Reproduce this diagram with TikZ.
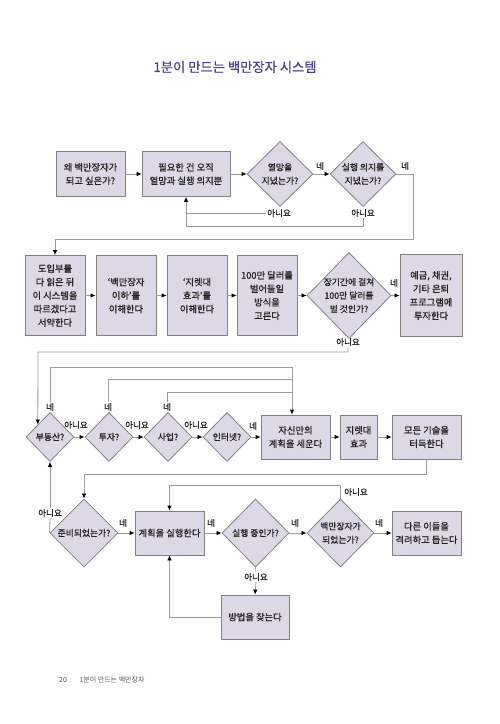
\documentclass[tikz,border=0pt]{standalone}
\usepackage{fontspec}
\setmainfont{Noto Sans CJK KR}
\newfontfamily\heavyish{Noto Sans CJK KR}[FakeBold=0.9]
\newfontfamily\titlefam{Noto Sans CJK KR}[FakeBold=0.4]
\usetikzlibrary{shapes.geometric,arrows.meta}
\definecolor{boxfill}{HTML}{DDD8E5}
\definecolor{boxline}{HTML}{808080}
\definecolor{conn}{HTML}{9C9C9C}
\definecolor{titlec}{HTML}{4E3D8F}
\definecolor{txtc}{HTML}{222222}
\newcommand\myboxfont{\heavyish\fontsize{9.3}{13.5}\selectfont}
\newcommand\mydiafont{\heavyish\fontsize{8.8}{13.5}\selectfont}
\newcommand\mylabfont{\heavyish\fontsize{8.5}{10}\selectfont}
\begin{document}
\begin{tikzpicture}[x=1pt,y=-1pt,
  box/.style={draw=boxline, fill=boxfill, line width=0.8pt, inner sep=0pt, align=center, font=\myboxfont, text=txtc},
  dia/.style={diamond, draw=boxline, fill=boxfill, line width=0.8pt, inner sep=0pt},
  txt/.style={align=center, font=\mydiafont, inner sep=0pt, text=txtc},
  lab/.style={font=\mylabfont, inner sep=1pt, text=txtc},
  line/.style={draw=conn, line width=0.8pt},
  arr/.style={line, -{Latex[length=5pt,width=4.5pt,color=black]}}]
\useasboundingbox[fill=white] (0,0) rectangle (500,724);

% title
\node[font=\titlefam\fontsize{13.3}{15}\selectfont, text=titlec] (title) at (235,67) {1분이 만드는 백만장자 시스템};

% row 1
\node[box, minimum width=69, minimum height=45] (b1) at (90.5,174) {왜 백만장자가\\되고 싶은가?};
\node[box, minimum width=88, minimum height=45] (b2) at (186,174) {필요한 건 오직\\열망과 실행 의지뿐};
\node[dia, minimum width=66, minimum height=65] (d1) at (280,174) {};
\node[txt] (d1t) at (d1) {열망을\\지녔는가?};
\node[dia, minimum width=66, minimum height=65] (d2) at (363,174) {};
\node[txt] (d2t) at (d2) {실행 의지를\\지녔는가?};
\node[lab] (y1) at (320,166) {네};
\node[lab] (y2) at (405,166) {네};
\node[lab] (n1) at (279,213) {아니요};
\node[lab] (n2) at (363,213) {아니요};

% row 2
\node[box, minimum width=60, minimum height=80] (bA) at (55,295.5) {도입부를\\다 읽은 뒤\\이 시스템을\\따르겠다고\\서약한다};
\node[box, minimum width=60, minimum height=80] (bB) at (126,295.5) {‘백만장자\\이하’를\\이해한다};
\node[box, minimum width=60, minimum height=80] (bC) at (197,295.5) {‘지렛대\\효과’를\\이해한다};
\node[box, minimum width=60, minimum height=80] (bD) at (267,295.5) {100만 달러를\\벌어들일\\방식을\\고른다};
\node[dia, minimum width=84, minimum height=86] (dL) at (349,295.5) {};
\node[txt] (dLt) at (dL) {장기간에 걸쳐\\100만 달러를\\벌 것인가?};
\node[box, minimum width=62, minimum height=82] (bE) at (431,295.5) {예금, 채권,\\기타 은퇴\\프로그램에\\투자한다};
\node[lab] (y3) at (394,283) {네};
\node[lab] (n3) at (348,342) {아니요};

% row 3
\node[dia, minimum width=48, minimum height=49] (p1) at (50,437) {};
\node[txt] (p1t) at (p1) {부동산?};
\node[dia, minimum width=48, minimum height=49] (p2) at (109,437) {};
\node[txt] (p2t) at (p2) {투자?};
\node[dia, minimum width=48, minimum height=49] (p3) at (168,437) {};
\node[txt] (p3t) at (p3) {사업?};
\node[dia, minimum width=48, minimum height=49] (p4) at (227,437) {};
\node[txt] (p4t) at (p4) {인터넷?};
\node[box, minimum width=69, minimum height=44] (bF) at (295.5,437) {자신만의\\계획을 세운다};
\node[box, minimum width=37, minimum height=44] (bG) at (358.5,437) {지렛대\\효과};
\node[box, minimum width=69, minimum height=44] (bH) at (426.5,437) {모든 기술을\\터득한다};
\node[lab] (y4) at (50,407) {네};
\node[lab] (y5) at (108,407) {네};
\node[lab] (y6) at (167,407) {네};
\node[lab] (n4) at (76,425) {아니요};
\node[lab] (n5) at (137,425) {아니요};
\node[lab] (n6) at (196,425) {아니요};
\node[lab] (y7) at (253,426) {네};

% row 4
\node[dia, minimum width=68, minimum height=68] (r1) at (84,533) {};
\node[txt] (r1t) at (r1) {준비되었는가?};
\node[box, minimum width=69, minimum height=44] (bI) at (169.5,533) {계획을 실행한다};
\node[dia, minimum width=67, minimum height=68] (r2) at (255.5,533) {};
\node[txt] (r2t) at (r2) {실행 중인가?};
\node[dia, minimum width=67, minimum height=68] (r3) at (340.5,533) {};
\node[txt] (r3t) at (r3) {백만장자가\\되었는가?};
\node[box, minimum width=69, minimum height=44] (bJ) at (426.5,533) {다른 이들을\\격려하고 돕는다};
\node[box, minimum width=68, minimum height=44] (bK) at (255,617) {방법을 찾는다};
\node[lab] (y8) at (123,523) {네};
\node[lab] (y9) at (211,523) {네};
\node[lab] (y10) at (295,523) {네};
\node[lab] (y11) at (379,523) {네};
\node[lab] (n7) at (356,492) {아니요};
\node[lab] (n8) at (256,577) {아니요};
\node[lab] (n9) at (50,513) {아니요};

% footer
\node[font=\fontsize{7}{8}\selectfont, text=titlec] (pg) at (63,680) {20};
\node[font=\fontsize{7}{8}\selectfont, text=black!65, anchor=west] (ft) at (76,680) {1분이 만드는 백만장자};

% connectors row 1
\draw[arr] (b1) -- (b2);
\draw[arr] (b2) -- (d1);
\draw[arr] (d1) -- (d2);
\coordinate (c1) at (413,239);
\draw[arr] (d2.east) -| (c1) -| (bA.north);
\draw[arr] (n1.west) -| (b2.south);
\coordinate (c2) at (186,226);
\draw[line] (n2.south) |- (c2) -- (c2 |- n1.west);

% connectors row 2
\draw[arr] (bA) -- (bB);
\draw[arr] (bB) -- (bC);
\draw[arr] (bC) -- (bD);
\draw[arr] (bD) -- (dL);
\draw[arr] (dL) -- (bE);
\coordinate (c4) at (38,352);
\draw[arr] (n3.south) |- (c4) -- (p1.north west);

% connectors row 3
\draw[arr] (p1) -- (p2);
\draw[arr] (p2) -- (p3);
\draw[arr] (p3) -- (p4);
\draw[arr] (p4) -- (bF);
\draw[arr] (bF) -- (bG);
\draw[arr] (bG) -- (bH);
\coordinate (cy1) at (292,367);
\coordinate (cy2) at (292,379);
\coordinate (cy3) at (292,392);
\draw[arr] (y4.north) |- (cy1) -- (cy1 |- bF.north);
\draw[line] (y5.north) |- (cy2);
\draw[line] (y6.north) |- (cy3);
\coordinate (c5) at (84,474);
\draw[arr] (bH.south) |- (c5) -- (r1.north);
\draw[arr] (n9.north) -- (p1.south);
\draw[line] (r1.west) -- (n9.south);

% connectors row 4
\draw[arr] (r1) -- (bI);
\draw[arr] (bI) -- (r2);
\draw[arr] (r2) -- (r3);
\draw[arr] (r3) -- (bJ);
\coordinate (c6) at (340.5,485);
\draw[arr] (r3.north) -- (c6) -| (bI.north);
\draw[line] (r2.south) -- (n8.north);
\draw[arr] (n8.south) -- (bK.north);
\draw[arr] (bK.west) -| (bI.south);
\end{tikzpicture}
\end{document}
